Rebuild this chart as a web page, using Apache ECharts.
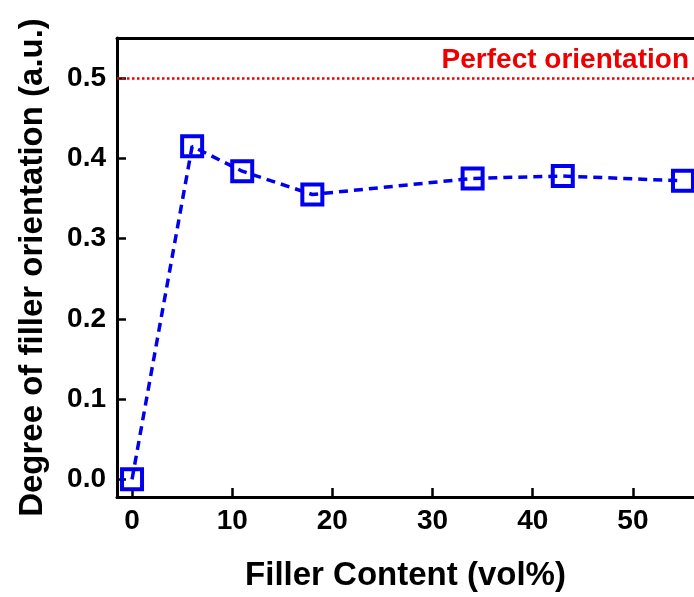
<!DOCTYPE html>
<html>
<head>
<meta charset="utf-8">
<script src="https://cdn.jsdelivr.net/npm/echarts@6/dist/echarts.min.js"></script>
<style>
  html, body { margin: 0; padding: 0; background: #fff; }
  #chart { width: 694px; height: 597px; }
</style>
</head>
<body>
<div id="chart"></div>
<script>
const fillerContent = [0, 6, 11, 18, 34, 43, 55]
const orientation = [0.0, 0.415, 0.384, 0.355, 0.375, 0.378, 0.372]
const xTicks = [0, 10, 20, 30, 40, 50]
const yTicks = [0, 0.1, 0.2, 0.3, 0.4, 0.5]
const perfectLevel = 0.5

const font = 'Liberation Sans, Arial, sans-serif'
const chart = echarts.init(document.getElementById('chart'))

const option = {
  animation: false,
  grid: { left: 117, right: 0, top: 38, bottom: 98 },
  xAxis: [
    {
      type: 'value',
      min: -1.5,
      max: 56.1,
      name: 'Filler Content (vol%)',
      nameLocation: 'middle',
      nameGap: 62,
      nameTextStyle: { fontFamily: font, fontWeight: 'bold', fontSize: 33, color: '#000' },
      axisLine: { show: true, onZero: false, lineStyle: { color: '#000', width: 3 } },
      axisTick: { show: true, inside: true, length: 9, lineStyle: { width: 2.5, color: '#000' }, customValues: xTicks },
      axisLabel: { fontFamily: font, fontWeight: 'bold', fontSize: 28, color: '#000', margin: 10, customValues: xTicks },
      splitLine: { show: false }
    },
    {
      type: 'value',
      position: 'top',
      min: -1.5,
      max: 56.1,
      axisLine: { show: true, onZero: false, lineStyle: { color: '#000', width: 3 } },
      axisTick: { show: false },
      axisLabel: { show: false },
      splitLine: { show: false }
    }
  ],
  yAxis: {
    type: 'value',
    min: -0.022,
    max: 0.55,
    name: 'Degree of filler orientation (a.u.)',
    nameLocation: 'middle',
    nameGap: 68,
    nameTextStyle: { fontFamily: font, fontWeight: 'bold', fontSize: 33, color: '#000' },
    axisLine: { show: true, onZero: false, lineStyle: { color: '#000', width: 3 } },
    axisTick: { show: true, inside: true, length: 9, lineStyle: { width: 2.5, color: '#000' }, customValues: yTicks },
    axisLabel: {
      fontFamily: font, fontWeight: 'bold', fontSize: 28, color: '#000', margin: 11,
      customValues: yTicks,
      formatter: v => v.toFixed(1)
    },
    splitLine: { show: false }
  },
  series: [
    {
      type: 'line',
      data: fillerContent.map((x, i) => [x, orientation[i]]),
      symbol: 'rect',
      symbolSize: 20,
      itemStyle: { color: 'rgba(0,0,0,0)', borderColor: '#0000ee', borderWidth: 4 },
      lineStyle: { color: '#0000ee', width: 3.5, type: [9, 6] },
      z: 3,
      markLine: {
        silent: true,
        symbol: 'none',
        lineStyle: { color: '#ee0000', width: 2.5, type: [2.5, 2.5] },
        label: {
          show: true,
          position: 'insideEndTop',
          formatter: 'Perfect orientation',
          fontFamily: font, fontWeight: 'bold', fontSize: 28, color: '#ee0000',
          distance: [5, 4]
        },
        data: [{ yAxis: perfectLevel }]
      }
    }
  ]
}

option && chart.setOption(option)
</script>
</body>
</html>
